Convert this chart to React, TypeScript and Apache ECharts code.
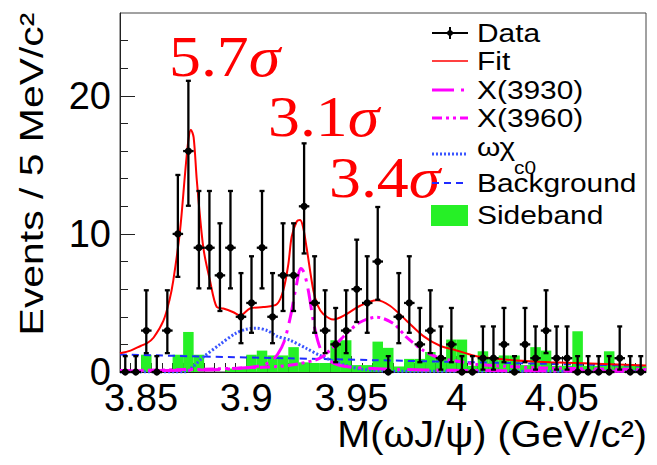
import React, { useEffect, useRef } from "react";
import * as echarts from "echarts";

// ---------- data ----------
const massMin = 3.84;
const massMax = 4.09;
const binWidth = 0.005;

const xTickValues = [3.85, 3.9, 3.95, 4, 4.05];
const yTickValues = [0, 10, 20];
const yMinorValues = [2, 4, 6, 8, 12, 14, 16, 18, 22, 24];

// observed counts per 5 MeV bin (3.840 ... 4.090)
const dataCounts = [0, 0, 3, 0, 3, 10, 16, 9, 9, 7, 9, 4, 5, 9, 4, 7, 7, 12, 5, 3, 2, 3, 6, 5, 8, 0, 4, 5, 2, 3, 1, 2, 0, 0, 1, 1, 2, 0, 2, 1, 3, 1, 1, 0, 0, 0, 0, 1, 0, 0];
// 68% Poisson interval ends, indexed by count
const poissonLow = [0, 0.173, 0.708, 1.367, 2.086, 2.84, 3.62, 4.419, 5.232, 6.057, 6.891, 7.735, 8.585, 9.441, 10.3, 11.17, 12.04];
const poissonHigh = [1.148, 3.3, 4.638, 5.918, 7.163, 8.382, 9.584, 10.77, 11.95, 13.11, 14.27, 15.42, 16.56, 17.7, 18.83, 19.96, 21.09];

// sideband histogram per bin
const sideband = [0, 0, 1.25, 0, 0, 1.25, 2.9, 1.25, 0, 0, 0.25, 0.25, 1.25, 1.55, 1.2, 1.2, 1.8, 0.7, 0.65, 0.65, 2.3, 2.3, 0.5, 0.5, 2.2, 1.75, 0.4, 0.95, 0.95, 1.45, 1.0, 2.35, 2.35, 0.45, 1.5, 1.05, 1.2, 1.2, 0.5, 1.8, 1.55, 0.45, 0.45, 2.95, 0.45, 0.45, 1.5, 0.45, 0.45, 0.45];

// total fit
const fitMass = [3.84, 3.845, 3.85, 3.853, 3.856, 3.8606, 3.8635, 3.8653, 3.8685, 3.871, 3.8725, 3.8737, 3.875, 3.8765, 3.8796, 3.8828, 3.886, 3.8891, 3.8939, 3.897, 3.9018, 3.9081, 3.9145, 3.9176, 3.92, 3.9216, 3.924, 3.9256, 3.927, 3.9287, 3.9319, 3.934, 3.9366, 3.9414, 3.9477, 3.9541, 3.962, 3.9683, 3.9763, 3.9842, 3.9921, 4.0, 4.0078, 4.0125, 4.0285, 4.0444, 4.0602, 4.09];
const fitValue = [1.36, 1.55, 1.9, 2.1, 2.5, 3.7, 5.2, 6.6, 10.2, 14.5, 16.8, 17.55, 17.0, 13.9, 9.0, 6.6, 4.7, 4.6, 4.33, 4.1, 4.6, 4.7, 4.9, 5.9, 7.8, 9.8, 10.9, 11.0, 10.5, 9.0, 5.9, 4.8, 4.2, 3.8, 4.2, 4.8, 5.2, 4.8, 3.7, 2.6, 1.9, 1.56, 1.2, 1.07, 0.83, 0.71, 0.64, 0.47];

// X(3930)
const x3930Mass = [3.84, 3.88, 3.9, 3.908, 3.912, 3.915, 3.918, 3.921, 3.9235, 3.926, 3.9275, 3.9295, 3.932, 3.9345, 3.937, 3.942, 3.95, 3.97, 4.0, 4.09];
const x3930Value = [0.08, 0.15, 0.3, 0.5, 0.8, 1.3, 2.2, 4.0, 6.0, 7.5, 7.2, 5.9, 3.6, 2.0, 1.2, 0.6, 0.35, 0.2, 0.12, 0.05];

// X(3960)
const x3960Mass = [3.84, 3.88, 3.9, 3.915, 3.925, 3.935, 3.942, 3.9477, 3.9541, 3.962, 3.97, 3.9763, 3.9842, 3.9921, 4.0, 4.01, 4.04, 4.09];
const x3960Value = [0.1, 0.2, 0.3, 0.4, 0.6, 1.0, 1.9, 2.8, 3.6, 3.97, 3.5, 2.5, 1.56, 1.0, 0.8, 0.55, 0.3, 0.18];

// omega chi_c0
const omegaChiMass = [3.84, 3.871, 3.8745, 3.8795, 3.8875, 3.895, 3.9, 3.905, 3.91, 3.9145, 3.9208, 3.9287, 3.935, 3.9414, 3.948, 3.955, 3.965, 3.98, 4.09];
const omegaChiValue = [0, 0, 0.35, 1.07, 2.0, 2.8, 3.1, 3.17, 3.0, 2.6, 2.3, 1.7, 1.2, 0.8, 0.45, 0.2, 0.08, 0.05, 0.05];

// background
const bkgMass = [3.84, 3.88, 3.92, 3.96, 4.0, 4.04, 4.09];
const bkgValue = [1.27, 1.12, 0.99, 0.86, 0.73, 0.6, 0.44];

const legendLabels = ["Data", "Fit", "X(3930)", "X(3960)", "ωχ", "Background", "Sideband"];
const sigmaTexts = ["5.7", "3.1", "3.4"];

// ---------- helpers ----------
const pairs = (xs: number[], ys: number[]) => xs.map((x, i) => [x, ys[i]]);
const xMinorValues = Array.from({ length: 49 }, (_, i) => +(massMin + binWidth * (i + 1)).toFixed(3)).filter(
  (v) => !xTickValues.some((t) => Math.abs(t - v) < 1e-6)
);

const RED = "#ff0000";
const MAGENTA = "#ff00ff";
const BLUE = "#1f2bff";
const DOTBLUE = "#3a55ff";
const GREEN = "#26f026";
const SANS = "'Liberation Sans', Arial, Helvetica, sans-serif";
const SERIF = "'Liberation Serif', 'DejaVu Serif', serif";

const X3930_DASH = [22, 7, 3, 7];
const X3960_DASH = [10, 4, 3, 4, 3, 4];
const DOT_DASH = [2, 2];
const BKG_DASH = [7, 5];

export default function App() {
  const ref = useRef<HTMLDivElement>(null);
  useEffect(() => {
    if (!ref.current) return;
    const chart = echarts.init(ref.current, undefined, { renderer: "svg" });

    const dataItems = dataCounts.map((n, i) => [
      massMin + binWidth * (i + 0.5),
      n,
      poissonLow[n],
      poissonHigh[n],
    ]);
    const sbItems = sideband.map((v, i) => [massMin + binWidth * i, massMin + binWidth * (i + 1), v]);

    const legX0 = 432;
    const legX1 = 468;
    const legText = 477;
    const rows = [33, 61, 90, 118, 150, 183, 215];
    const legendFont = { fontSize: 26, fontFamily: SANS, fill: "#000" };
    const textEl = (t: string, y: number) => ({
      type: "text",
      x: legText,
      y,
      scaleX: 1.15,
      style: { text: t, ...legendFont, align: "left", verticalAlign: "middle", textAlign: "left", textVerticalAlign: "middle" },
      z: 100,
    });
    const lineEl = (y: number, stroke: string, lineWidth: number, lineDash?: number[]) => ({
      type: "line",
      shape: { x1: legX0, y1: y, x2: legX1, y2: y },
      style: { stroke, lineWidth, lineDash },
      z: 100,
    });
    const sigmaEl = (num: string, x: number, y: number) => ({
      type: "text",
      x,
      y,
      scaleX: 1.1,
      style: {
        text: `{n|${num}}{s|σ}`,
        fill: RED,
        align: "left",
        verticalAlign: "middle",
        textAlign: "left",
        textVerticalAlign: "middle",
        rich: {
          n: { fontSize: 58, fontFamily: SERIF, fill: RED },
          s: { fontSize: 58, fontFamily: SERIF, fontStyle: "italic", fill: RED },
        },
      },
      z: 100,
    });

    const option: any = {
      animation: false,
      backgroundColor: "#ffffff",
      grid: { left: 120, right: 11, top: 13, bottom: 93, show: true, borderColor: "#444", borderWidth: 1, backgroundColor: "transparent" },
      xAxis: [
        {
          type: "value",
          min: massMin,
          max: massMax,
          position: "bottom",
          axisLine: { show: true, onZero: false, lineStyle: { color: "#222", width: 1 } },
          axisTick: { show: true, inside: true, length: 16, customValues: xTickValues, lineStyle: { color: "#222", width: 1 } },
          axisLabel: {
            show: true,
            customValues: xTickValues,
            fontSize: 38,
            fontFamily: SANS,
            color: "#000",
            margin: 7,
            formatter: (v: number) => String(+(+v).toFixed(2)),
          },
          splitLine: { show: false },
        },
        {
          type: "value",
          min: massMin,
          max: massMax,
          position: "bottom",
          axisLine: { show: false },
          axisTick: { show: true, inside: true, length: 9, customValues: xMinorValues, lineStyle: { color: "#222", width: 1 } },
          axisLabel: { show: false },
          splitLine: { show: false },
        },
      ],
      yAxis: [
        {
          type: "value",
          min: 0,
          max: 26,
          position: "left",
          axisLine: { show: true, onZero: false, lineStyle: { color: "#222", width: 1 } },
          axisTick: { show: true, inside: true, length: 15, customValues: yTickValues, lineStyle: { color: "#222", width: 1 } },
          axisLabel: { show: true, customValues: yTickValues, fontSize: 38, fontFamily: SANS, color: "#000", margin: 9 },
          splitLine: { show: false },
        },
        {
          type: "value",
          min: 0,
          max: 26,
          position: "left",
          axisLine: { show: false },
          axisTick: { show: true, inside: true, length: 8, customValues: yMinorValues, lineStyle: { color: "#222", width: 1 } },
          axisLabel: { show: false },
          splitLine: { show: false },
        },
      ],
      series: [
        {
          type: "custom",
          name: "Sideband",
          z: 1,
          clip: true,
          data: sbItems,
          encode: { x: [0, 1], y: 2 },
          renderItem: (_p: any, api: any) => {
            const v = api.value(2);
            if (!v) return null;
            const a = api.coord([api.value(0), v]);
            const b = api.coord([api.value(1), 0]);
            return {
              type: "rect",
              shape: { x: a[0], y: a[1], width: b[0] - a[0], height: b[1] - a[1] },
              style: { fill: GREEN },
            };
          },
        },
        {
          type: "line",
          name: "Background",
          z: 3,
          data: pairs(bkgMass, bkgValue),
          showSymbol: false,
          smooth: 0.3,
          lineStyle: { color: BLUE, width: 2, type: BKG_DASH },
        },
        {
          type: "line",
          name: "omegachic0",
          z: 3,
          data: pairs(omegaChiMass, omegaChiValue),
          showSymbol: false,
          smooth: 0.3,
          lineStyle: { color: DOTBLUE, width: 3, type: DOT_DASH },
        },
        {
          type: "line",
          name: "X(3930)",
          z: 3,
          data: pairs(x3930Mass, x3930Value),
          showSymbol: false,
          smooth: 0.3,
          lineStyle: { color: MAGENTA, width: 3, type: X3930_DASH },
        },
        {
          type: "line",
          name: "X(3960)",
          z: 3,
          data: pairs(x3960Mass, x3960Value),
          showSymbol: false,
          smooth: 0.3,
          lineStyle: { color: MAGENTA, width: 3, type: X3960_DASH },
        },
        {
          type: "line",
          name: "Fit",
          z: 4,
          data: pairs(fitMass, fitValue),
          showSymbol: false,
          smooth: 0.3,
          lineStyle: { color: RED, width: 2 },
        },
        {
          type: "custom",
          name: "Data",
          z: 5,
          clip: false,
          data: dataItems,
          encode: { x: 0, y: 1 },
          renderItem: (_p: any, api: any) => {
            const x = api.value(0);
            const n = api.value(1);
            const c = api.coord([x, n]);
            const lo = api.coord([x, api.value(2)]);
            const hi = api.coord([x, api.value(3)]);
            const half = api.size([binWidth, 0])[0] / 2;
            const st = { stroke: "#000", lineWidth: 2.3 };
            const kids: any[] = [
              { type: "line", shape: { x1: c[0], y1: lo[1], x2: c[0], y2: hi[1] }, style: st },
              { type: "line", shape: { x1: c[0] - half, y1: c[1], x2: c[0] + half, y2: c[1] }, style: st },
              { type: "line", shape: { x1: c[0] - 2.5, y1: hi[1], x2: c[0] + 2.5, y2: hi[1] }, style: st },
              { type: "circle", shape: { cx: c[0], cy: c[1], r: 3.6 }, style: { fill: "#000" } },
            ];
            if (n > 0) kids.push({ type: "line", shape: { x1: c[0] - 2.5, y1: lo[1], x2: c[0] + 2.5, y2: lo[1] }, style: st });
            return { type: "group", children: kids };
          },
        },
      ],
      graphic: [
        // axis titles
        {
          type: "text",
          x: 31,
          y: 174,
          rotation: Math.PI / 2,
          scaleX: 1.24,
          style: {
            text: "Events / 5 MeV/c²",
            fontSize: 33,
            fontFamily: SANS,
            fill: "#000",
            align: "center",
            verticalAlign: "middle",
            textAlign: "center",
            textVerticalAlign: "middle",
          },
        },
        {
          type: "text",
          x: 647,
          y: 434,
          scaleX: 1.07,
          style: {
            text: "M(ωJ/ψ) (GeV/c²)",
            fontSize: 37,
            fontFamily: SANS,
            fill: "#000",
            align: "right",
            verticalAlign: "middle",
            textAlign: "right",
            textVerticalAlign: "middle",
          },
        },
        // significance labels
        sigmaEl(sigmaTexts[0], 169, 56),
        sigmaEl(sigmaTexts[1], 268, 116),
        sigmaEl(sigmaTexts[2], 329, 177),
        // legend
        lineEl(rows[0], "#000", 2),
        { type: "line", shape: { x1: 450, y1: rows[0] - 6, x2: 450, y2: rows[0] + 6 }, style: { stroke: "#000", lineWidth: 2 }, z: 100 },
        { type: "circle", shape: { cx: 450, cy: rows[0], r: 3 }, style: { fill: "#000" }, z: 100 },
        textEl(legendLabels[0], rows[0]),
        lineEl(rows[1], RED, 1.5),
        textEl(legendLabels[1], rows[1]),
        lineEl(rows[2], MAGENTA, 3, X3930_DASH),
        textEl(legendLabels[2], rows[2]),
        lineEl(rows[3], MAGENTA, 3, X3960_DASH),
        textEl(legendLabels[3], rows[3]),
        lineEl(rows[4] + 4, DOTBLUE, 3, DOT_DASH),
        textEl(legendLabels[4], rows[4] - 3),
        {
          type: "text",
          x: 514,
          y: 167,
          scaleX: 1.1,
          style: { text: "c0", fontSize: 19, fontFamily: SANS, fill: "#000", align: "left", verticalAlign: "middle", textAlign: "left", textVerticalAlign: "middle" },
          z: 100,
        },
        lineEl(rows[5], BLUE, 2, BKG_DASH),
        textEl(legendLabels[5], rows[5]),
        { type: "rect", shape: { x: 431, y: 205, width: 37, height: 21 }, style: { fill: GREEN }, z: 100 },
        textEl(legendLabels[6], rows[6]),
      ],
    };

    chart.setOption(option);
    return () => chart.dispose();
  }, []);

  return <div ref={ref} style={{ position: "fixed", left: 0, top: 0, width: 657, height: 465, background: "#fff" }} />;
}
